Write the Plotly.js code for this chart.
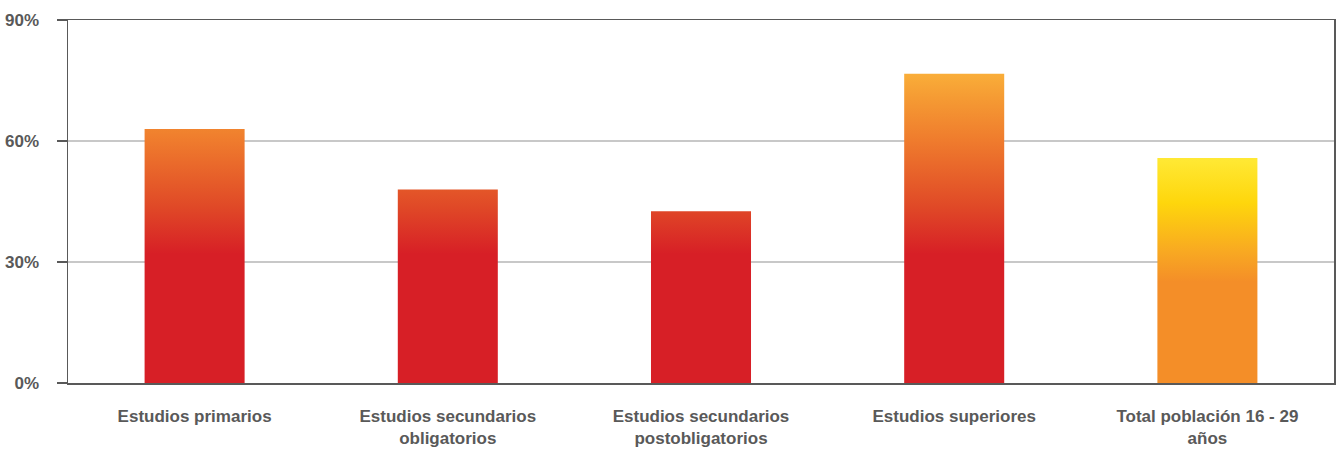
<!DOCTYPE html>
<html>
<head>
<meta charset="utf-8">
<script src="https://cdn.plot.ly/plotly-3.0.1.min.js"></script>
<style>html,body{margin:0;padding:0;background:#fff;}#chart{width:1337px;height:450px;}</style>
</head>
<body>
<div id="chart"></div>
<script>
const categories = [
  "Estudios primarios",
  "Estudios secundarios<br>obligatorios",
  "Estudios secundarios<br>postobligatorios",
  "Estudios superiores",
  "Total población 16 - 29<br>años"
];
const values = [63, 48, 42.6, 76.7, 55.8];
const tickValues = [0, 30, 60, 90];
const tickLabels = ["0%", "30%", "60%", "90%"];

const FONT = '"Liberation Sans", Arial, sans-serif';
const gd = document.getElementById('chart');

const trace = {
  type: 'bar',
  x: categories,
  y: values,
  marker: {color: ['#d71f26','#d71f26','#d71f26','#d71f26','#f48e28'], line: {width: 0}},
  hoverinfo: 'none'
};

const layout = {
  width: 1337, height: 450,
  margin: {l: 68, r: 3, t: 20, b: 67},
  paper_bgcolor: '#fff', plot_bgcolor: '#fff',
  showlegend: false,
  bargap: 0.605,
  font: {family: FONT, size: 16, color: '#595959'},
  xaxis: {
    showline: true, mirror: true, linecolor: '#595959', linewidth: 1.5,
    ticks: '', showgrid: false,
    tickfont: {family: FONT, size: 17, color: '#595959', weight: 'bold'},
    ticklen: 0, ticklabelstandoff: 17
  },
  yaxis: {
    range: [0, 90], tickvals: tickValues, ticktext: tickLabels,
    showline: true, mirror: true, linecolor: '#595959', linewidth: 1.5,
    ticks: 'outside', ticklen: 10, tickcolor: '#595959', tickwidth: 1.5,
    showgrid: true, gridcolor: '#c8c8c8', gridwidth: 1.3, zeroline: false,
    tickfont: {family: FONT, size: 17, color: '#595959', weight: 'bold'},
    ticklabelstandoff: 14
  }
};

function addGradients() {
  const svg = gd.querySelector('.main-svg');
  let defs = svg.querySelector('defs');
  const ns = 'http://www.w3.org/2000/svg';
  const ya = gd._fullLayout.yaxis;
  function grad(id, user, stops, y1, y2) {
    const g = document.createElementNS(ns, 'linearGradient');
    g.setAttribute('id', id);
    g.setAttribute('x1', '0'); g.setAttribute('x2', '0');
    if (user) {
      g.setAttribute('gradientUnits', 'userSpaceOnUse');
      g.setAttribute('y1', y1); g.setAttribute('y2', y2);
    } else {
      g.setAttribute('y1', '0'); g.setAttribute('y2', '1');
    }
    stops.forEach(s => {
      const st = document.createElementNS(ns, 'stop');
      st.setAttribute('offset', s[0]);
      st.setAttribute('stop-color', s[1]);
      g.appendChild(st);
    });
    defs.appendChild(g);
  }
  // red-orange gradient mapped to the value scale (top at 80%, bottom at 0%)
  const yTop = ya.c2p(80), yBot = ya.c2p(0);
  grad('gradRed', true, [
    [0, '#fcb83c'], [0.12, '#f59a33'], [0.25, '#ef7b2d'], [0.45, '#e04a27'],
    [0.6, '#d71f26'], [1, '#d71f26']
  ], yTop, yBot);
  grad('gradYellow', false, [
    [0, '#ffe935'], [0.2, '#fed60c'], [0.42, '#f8a822'], [0.55, '#f48e28'], [1, '#f48e28']
  ]);
  const paths = gd.querySelectorAll('.trace.bars .point path');
  paths.forEach((p, i) => {
    p.style.fill = i === paths.length - 1 ? 'url(#gradYellow)' : 'url(#gradRed)';
  });
}

Plotly.newPlot(gd, [trace], layout, {staticPlot: true, responsive: false}).then(addGradients);
</script>
</body>
</html>
